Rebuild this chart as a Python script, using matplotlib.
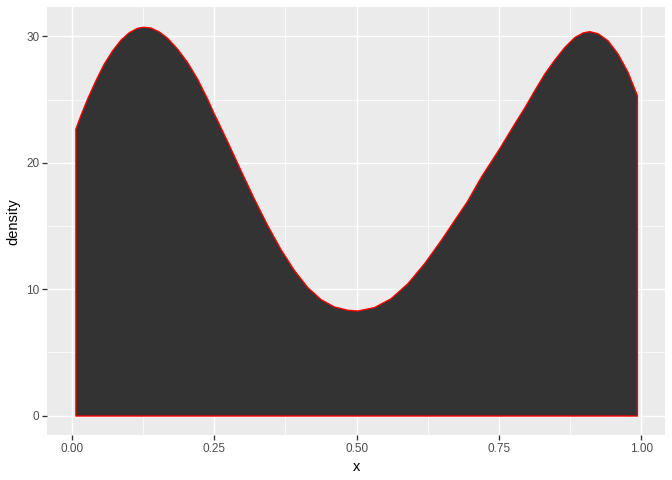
import matplotlib
matplotlib.use("Agg")
import matplotlib.pyplot as plt

plt.rcParams["font.family"] = ["Liberation Sans", "DejaVu Sans"]

x_vals = [0.0062, 0.0149, 0.0267, 0.0413, 0.0559, 0.0706, 0.0852, 0.0999, 0.1146, 0.125,
          0.138, 0.1526, 0.1673, 0.1849, 0.2025, 0.22, 0.2376, 0.2492, 0.2552, 0.2727,
          0.2961, 0.3195, 0.343, 0.3664, 0.3898, 0.4134, 0.4367, 0.46, 0.4837, 0.501,
          0.5304, 0.5598, 0.589, 0.6183, 0.6476, 0.677, 0.6933, 0.718, 0.75, 0.7765,
          0.794, 0.8116, 0.8292, 0.8467, 0.8643, 0.8819, 0.8966, 0.9083, 0.923, 0.9406,
          0.9582, 0.9758, 0.992]
density = [22.7, 23.76, 25.07, 26.52, 27.84, 28.89, 29.73, 30.33, 30.68, 30.76,
           30.70, 30.39, 29.89, 29.02, 27.96, 26.65, 25.07, 23.9, 23.36, 21.7,
           19.42, 17.18, 15.07, 13.16, 11.52, 10.16, 9.21, 8.63, 8.37, 8.31,
           8.58, 9.29, 10.47, 12.05, 13.89, 15.86, 16.95, 18.9, 21.13, 23.1,
           24.36, 25.73, 27.05, 28.15, 29.15, 29.94, 30.31, 30.41, 30.25, 29.68,
           28.63, 27.17, 25.34]
x_ticks = [0.0, 0.25, 0.5, 0.75, 1.0]
x_tick_labels = ["0.00", "0.25", "0.50", "0.75", "1.00"]
y_ticks = [0, 10, 20, 30]
y_tick_labels = ["0", "10", "20", "30"]

fig = plt.figure(figsize=(7, 5), dpi=96)
ax = fig.add_axes([0.0704, 0.0938, 0.9192, 0.891])
ax.set_facecolor("#EBEBEB")

ax.fill_between(x_vals, density, 0, facecolor="#333333", edgecolor="red",
                linewidth=1.0, zorder=3, joinstyle="round")

xmin, xmax = min(x_vals), max(x_vals)
xr = xmax - xmin
ax.set_xlim(xmin - 0.05 * xr, xmax + 0.05 * xr)
ymax = max(density)
ax.set_ylim(-0.05 * ymax, ymax * 1.05)

ax.set_xticks(x_ticks)
ax.set_xticklabels(x_tick_labels)
ax.set_yticks(y_ticks)
ax.set_yticklabels(y_tick_labels)
ax.set_xticks([0.125, 0.375, 0.625, 0.875], minor=True)
ax.set_yticks([5, 15, 25], minor=True)

ax.grid(which="major", color="white", linewidth=1.1, zorder=0)
ax.grid(which="minor", color="white", linewidth=0.55, zorder=0)
ax.set_axisbelow(True)
for s in ax.spines.values():
    s.set_visible(False)

ax.tick_params(which="major", length=3.5, width=1.0, color="#333333",
               labelcolor="#4D4D4D", labelsize=8.8, pad=2.5)
ax.tick_params(which="minor", length=0)

ax.set_xlabel("x", fontsize=11, color="black", labelpad=4)
ax.set_ylabel("density", fontsize=11, color="black", labelpad=4)

fig.savefig("out.png", dpi=96, facecolor="white")
